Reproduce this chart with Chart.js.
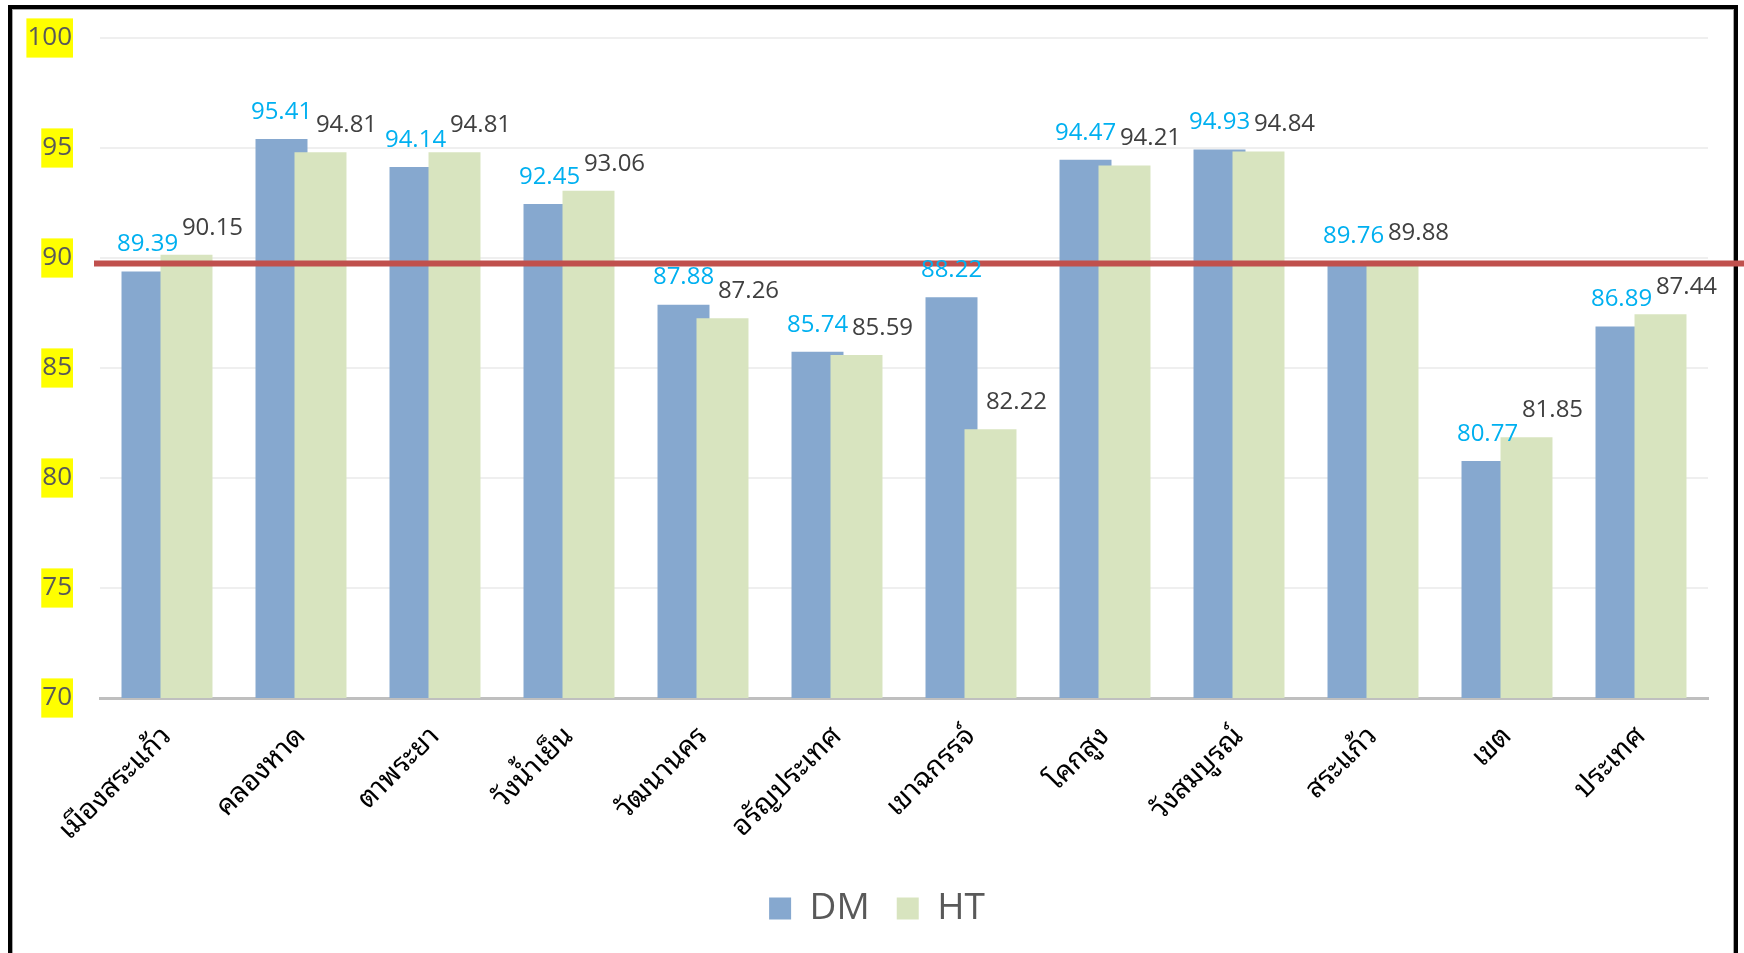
<!DOCTYPE html>
<html>
<head>
<meta charset="utf-8">
<style>
  html, body { margin: 0; padding: 0; background: #fff; overflow: hidden; }
  #frame {
    position: absolute; left: 8px; top: 5px; width: 1722px; height: 1000px;
    border: 4px solid #000; box-shadow: inset 0 0 0 1px #a6a6a6;
  }
  #wrap { position: absolute; left: 0; top: 0; width: 1744px; height: 953px; }
</style>
</head>
<body>
<div id="frame"></div>
<div id="wrap"><canvas id="chart"></canvas></div>
<script src="https://cdn.jsdelivr.net/npm/chart.js"></script>
<script>
    const categories = ['เมืองสระแก้ว', 'คลองหาด', 'ตาพระยา', 'วังน้ำเย็น', 'วัฒนานคร', 'อรัญประเทศ',
                        'เขาฉกรรจ์', 'โคกสูง', 'วังสมบูรณ์', 'สระแก้ว', 'เขต', 'ประเทศ'];
    const dmValues = [89.39, 95.41, 94.14, 92.45, 87.88, 85.74, 88.22, 94.47, 94.93, 89.76, 80.77, 86.89];
    const htValues = [90.15, 94.81, 94.81, 93.06, 87.26, 85.59, 82.22, 94.21, 94.84, 89.88, 81.85, 87.44];
    const yTicks = [70, 75, 80, 85, 90, 95, 100];
    const targetLine = 89.75;

    // HT is drawn over DM (bars overlap), plus the red line and value labels
    const overlay = {
        id: 'overlay',
        beforeDatasetDraw(chart, args) {
            if (args.index === 1 && !chart.$lateDraw) return false;
        },
        afterDatasetsDraw(chart) {
            const ctx = chart.ctx;
            const area = chart.chartArea;
            ctx.save();
            ctx.beginPath();
            ctx.rect(area.left, area.top, area.right - area.left, area.bottom - area.top);
            ctx.clip();
            chart.$lateDraw = true;
            chart.getDatasetMeta(1).controller.draw();
            chart.$lateDraw = false;
            ctx.restore();

            const y = chart.scales.y.getPixelForValue(targetLine);
            ctx.save();
            ctx.strokeStyle = '#C0504D';
            ctx.lineWidth = 6;
            ctx.beginPath();
            ctx.moveTo(area.left - 6, y);
            ctx.lineTo(chart.width, y);
            ctx.stroke();

            ctx.font = '24px "Open Sans"';
            ctx.textAlign = 'center';
            ctx.textBaseline = 'middle';
            const styles = [{color: '#00B0F0', dx: 0}, {color: '#404040', dx: 26}];
            chart.data.datasets.forEach((ds, di) => {
                chart.getDatasetMeta(di).data.forEach((bar, i) => {
                    ctx.fillStyle = styles[di].color;
                    ctx.fillText(ds.data[i].toFixed(2), bar.x + styles[di].dx, bar.y - 27);
                });
            });
            ctx.restore();
        }
    };

    const thaiFont = '"Noto Sans Thai Looped", "Loma", "Garuda", "Norasi", "Kinnari", "Tlwg Typo", "Noto Serif Thai", "Noto Sans Thai", sans-serif';

    function noVerticalOverflow(scale) {
        scale.paddingTop = 0;
        scale.paddingBottom = 0;
    }

    const ctx = document.getElementById('chart').getContext('2d');
    new Chart(ctx, {
        type: 'bar',
        data: {
            labels: categories,
            datasets: [
                { label: 'DM', data: dmValues, backgroundColor: '#86A8CF',
                  categoryPercentage: 0.582, barPercentage: 1.333 },
                { label: 'HT', data: htValues, backgroundColor: '#D8E4BF',
                  categoryPercentage: 0.582, barPercentage: 1.333 }
            ]
        },
        options: {
            responsive: true,
            maintainAspectRatio: false,
            animation: false,
            layout: { padding: { left: 10, right: 0, top: 38, bottom: 16 } },
            plugins: {
                tooltip: { enabled: false },
                legend: {
                    position: 'bottom',
                    labels: {
                        boxWidth: 22, boxHeight: 22, padding: 27,
                        color: '#595959',
                        font: { family: '"Open Sans"', size: 37 }
                    }
                }
            },
            scales: {
                x: {
                    grid: { display: false },
                    border: { color: '#BFBFBF', width: 3 },
                    ticks: {
                        color: '#000',
                        minRotation: 45, maxRotation: 45,
                        padding: 14,
                        font: { family: thaiFont, size: 28 }
                    },
                    afterFit(scale) { scale.height = 165; }
                },
                y: {
                    min: 70, max: 100,
                    afterBuildTicks(scale) { scale.ticks = yTicks.map(v => ({ value: v })); },
                    grid: { color: '#EFEFEF', lineWidth: 2, drawTicks: false },
                    border: { display: false },
                    ticks: {
                        color: '#595959',
                        padding: 28,
                        showLabelBackdrop: true,
                        backdropColor: '#FFFF00',
                        backdropPadding: { x: 1, y: 4 },
                        font: { family: '"Open Sans"', size: 26 }
                    },
                    afterFit(scale) { scale.width = 90; noVerticalOverflow(scale); }
                },
                yRight: {
                    position: 'right',
                    grid: { display: false },
                    border: { display: false },
                    ticks: { display: false },
                    afterFit(scale) { scale.width = 36; noVerticalOverflow(scale); }
                }
            }
        },
        plugins: [overlay]
    });
</script>
</body>
</html>
